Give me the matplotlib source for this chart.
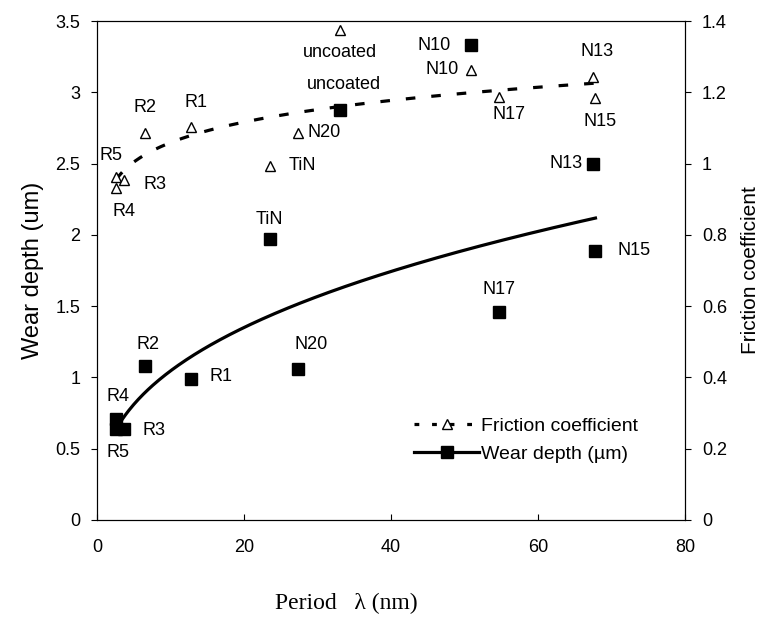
# Wear depth and friction coefficient against multilayer period
import numpy as np
import matplotlib.pyplot as plt
from matplotlib.lines import Line2D

plt.rcParams['font.family'] = ['Liberation Sans', 'DejaVu Sans']

# samples plotted on the period axis (TiN and uncoated are reference coatings)
names = ["R4", "R5", "R3", "R2", "R1", "N20", "N17", "N15", "N13", "N10", "TiN", "uncoated"]
period = [2.6, 2.6, 3.7, 6.5, 12.8, 27.4, 54.7, 67.8, 67.5, 50.9, 23.5, 33.0]
wear = [0.71, 0.64, 0.64, 1.08, 0.99, 1.06, 1.46, 1.89, 2.50, 3.33, 1.97, 2.875]
friction = [0.932, 0.962, 0.954, 1.086, 1.103, 1.086, 1.187, 1.185, 1.243, 1.263, 0.993, 1.375]
fitted = [True] * 10 + [False, False]   # trend lines use the multilayers only

# label offsets in pixels (dx, dy) from the marker
wear_off = {"R4": (2, 22), "R5": (2, -24), "R3": (30, -2), "R2": (3, 22),
            "R1": (30, 2), "N20": (13, 24), "N17": (0, 22), "N15": (39, 0),
            "N13": (-27, 0), "N10": (-37, 0), "TiN": (0, 20), "uncoated": (4, 26)}
fric_off = {"R4": (8, -24), "R5": (-5, 22), "R3": (31, -5), "R2": (0, 25),
            "R1": (5, 24), "N20": (26, 0), "N17": (10, -18), "N15": (5, -24),
            "N13": (4, 25), "N10": (-29, 0), "TiN": (33, 1), "uncoated": (0, -23)}

x = np.array(period)
m = np.array(fitted)

# power-law trend lines, fitted in log-log space
bw, aw = np.polyfit(np.log(x[m]), np.log(np.array(wear)[m]), 1)
bf, af = np.polyfit(np.log(x[m]), np.log(np.array(friction)[m]), 1)
xs = np.linspace(x[m].min(), x[m].max(), 300)

fig = plt.figure(figsize=(7.63, 6.19), dpi=100)
ax = fig.add_axes([0.127, 0.160, 0.771, 0.806])
ax2 = ax.twinx()

ax.plot(xs, np.exp(aw) * xs ** bw, 'k-', lw=2.3)
ax.plot(x, wear, 'ks', ms=9, ls='none')
line, = ax2.plot(xs, np.exp(af) * xs ** bf, 'k--', lw=2.3)
line.set_dashes([3, 5])
ax2.plot(x, friction, '^', ms=7, mfc='white', mec='black', mew=1.0, ls='none')

for n, xi, yi in zip(names, period, wear):
    ax.annotate(n, (xi, yi), xytext=wear_off[n], textcoords='offset pixels',
                ha='center', va='center', fontsize=13)
for n, xi, yi in zip(names, period, friction):
    ax2.annotate(n, (xi, yi), xytext=fric_off[n], textcoords='offset pixels',
                 ha='center', va='center', fontsize=13)

ax.set_xlim(0, 80)
ax.set_ylim(0, 3.5)
ax2.set_ylim(0, 1.4)
ax.set_xticks([0, 20, 40, 60, 80])
ax.set_yticks(np.arange(0, 3.51, 0.5))
ax.set_yticklabels(["0", "0.5", "1", "1.5", "2", "2.5", "3", "3.5"])
ax2.set_yticks(np.arange(0, 1.41, 0.2))
ax2.set_yticklabels(["0", "0.2", "0.4", "0.6", "0.8", "1", "1.2", "1.4"])
ax.tick_params(axis='x', direction='in', length=4, labelsize=13, pad=14)
ax.tick_params(axis='y', direction='out', length=4, labelsize=13, pad=8)
ax2.tick_params(axis='y', direction='out', length=4, labelsize=13, pad=8)

ax.set_ylabel("Wear depth (um)", fontsize=17, labelpad=8)
ax2.set_ylabel("Friction coefficient", fontsize=15, labelpad=10)
fig.text(346 / 763, 1 - 603 / 619, "Period   λ (nm)", family='Liberation Serif',
         fontsize=17, ha='center', va='center')

handles = [Line2D([], [], color='k', ls='--', dashes=(1.5, 4), lw=2.3, marker='^',
                  ms=7, mfc='white', mec='black'),
           Line2D([], [], color='k', ls='-', lw=2.3, marker='s', ms=9)]
ax.legend(handles, ["Friction coefficient", "Wear depth (µm)"], frameon=False,
          loc='lower left', bbox_to_anchor=(0.51, 0.08), fontsize=14,
          handlelength=3.3, handletextpad=0.1, labelspacing=0.5)

fig.savefig("out.png", dpi=100)
